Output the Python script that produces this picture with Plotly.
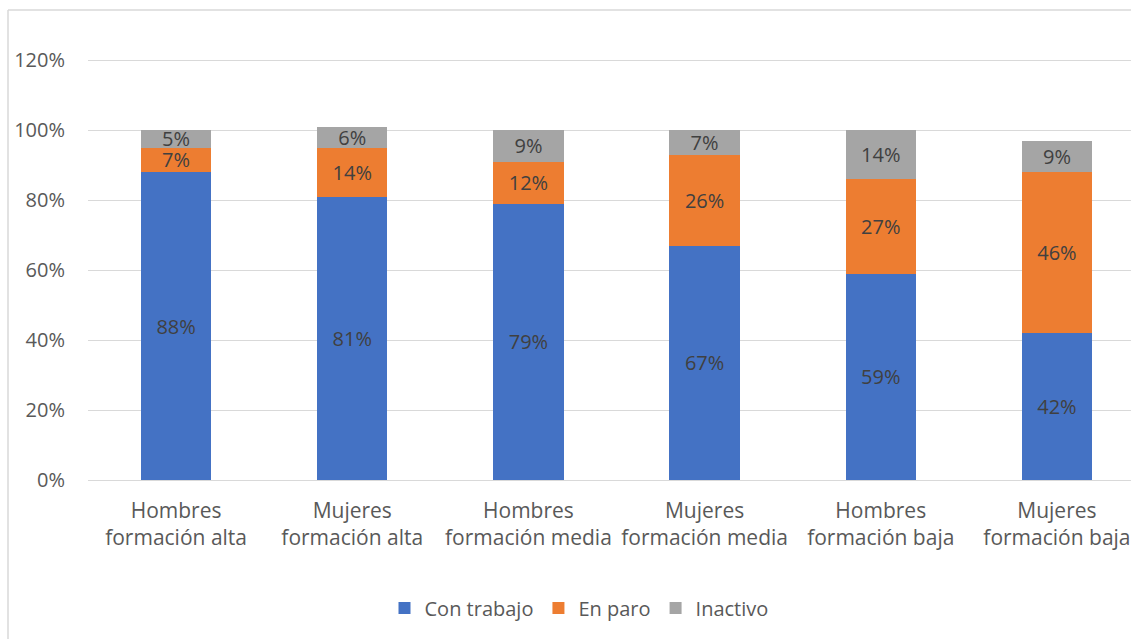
import plotly.graph_objects as go

categories = ["Hombres<br>formación alta", "Mujeres<br>formación alta", "Hombres<br>formación media",
              "Mujeres<br>formación media", "Hombres<br>formación baja", "Mujeres<br>formación baja"]
con_trabajo = [0.88, 0.81, 0.79, 0.67, 0.59, 0.42]
en_paro = [0.07, 0.14, 0.12, 0.26, 0.27, 0.46]
inactivo = [0.05, 0.06, 0.09, 0.07, 0.14, 0.09]
y_ticks = [0, 0.2, 0.4, 0.6, 0.8, 1.0, 1.2]
y_tick_text = ["0%", "20%", "40%", "60%", "80%", "100%", "120%"]

series = [("Con trabajo", con_trabajo, "#4472C4"),
          ("En paro", en_paro, "#ED7D31"),
          ("Inactivo", inactivo, "#A5A5A5")]

FONT = "'Open Sans', sans-serif"
fig = go.Figure()
for name, vals, color in series:
    fig.add_trace(go.Bar(
        x=list(range(len(categories))), y=vals, name=name,
        marker=dict(color=color, line=dict(width=0)),
        width=0.4,
        text=[f"{round(v*100)}%" for v in vals],
        textposition="inside", insidetextanchor="middle",
        constraintext="none",
        textfont=dict(size=20, color="#404040", family=FONT),
        textangle=0,
        cliponaxis=False,
    ))

W, H = 1131, 639
left, top, bottom = 88, 10, 159
plot_w = W - left
plot_h = H - top - bottom

fig.update_layout(
    barmode="stack",
    width=W, height=H,
    margin=dict(l=left, r=0, t=top, b=bottom),
    paper_bgcolor="white", plot_bgcolor="white",
    font=dict(family=FONT, color="#595959", size=19),
    uniformtext=dict(mode=False),
    showlegend=True,
    legend=dict(orientation="h", x=(579 - left) / plot_w, xanchor="center",
                y=(H - bottom - 608) / plot_h, yanchor="middle",
                traceorder="normal",
                font=dict(size=20, color="#595959", family=FONT),
                itemwidth=30, tracegroupgap=0),
    xaxis=dict(range=[-0.5, 5.5 - (left + 6 * 176 - W + 1) / 176],
               tickvals=list(range(len(categories))), ticktext=categories,
               showgrid=False, zeroline=False, showline=False, ticks="",
               ticklabelstandoff=16,
               tickfont=dict(size=21, color="#595959", family=FONT)),
    yaxis=dict(range=[0, plot_h / 350], tickvals=y_ticks, ticktext=y_tick_text,
               showgrid=True, gridcolor="#D9D9D9", gridwidth=1,
               zeroline=True, zerolinecolor="#D9D9D9", zerolinewidth=1,
               showline=False, ticks="", ticklabelstandoff=22,
               tickfont=dict(size=20, color="#595959", family=FONT)),
)

# chart frame (left and top border)
fx = (8 - left) / plot_w
fig.add_shape(type="line", xref="paper", yref="paper", x0=fx, x1=fx,
              y0=1.0, y1=(H - bottom - H) / plot_h, line=dict(color="#D9D9D9", width=1.5))
fig.add_shape(type="line", xref="paper", yref="paper", x0=fx, x1=1.0,
              y0=1.0, y1=1.0, line=dict(color="#D9D9D9", width=1.5))

fig.write_html("out.html")
